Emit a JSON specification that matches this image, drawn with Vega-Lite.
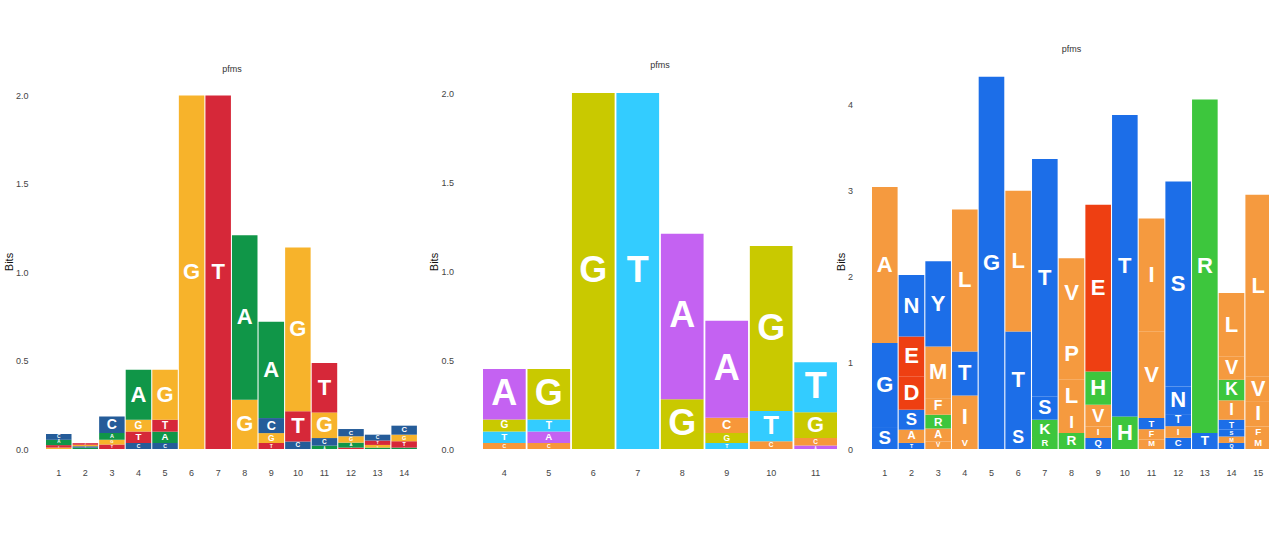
{
  "$schema": "https://vega.github.io/schema/vega-lite/v6.json",
  "background": "white",
  "padding": {"left": 3, "top": 45, "right": 0, "bottom": 0},
  "bounds": "flush",
  "spacing": 35,
  "config": {
    "view": {"stroke": null},
    "font": "Liberation Sans",
    "axis": {"domain": false, "ticks": false, "grid": false, "labelFont": "Liberation Sans", "labelFontSize": 9, "labelColor": "#444444", "titleFont": "Liberation Sans", "titleFontSize": 11, "titleFontWeight": "normal", "titleColor": "#111111"},
    "title": {"font": "Liberation Sans", "fontSize": 9, "fontWeight": "normal", "color": "#333333", "baseline": "bottom"}
  },
  "datasets": {
    "p1": [
      {"pos": 1, "letter": "G", "bits": 0.008}, {"pos": 1, "letter": "T", "bits": 0.014}, {"pos": 1, "letter": "A", "bits": 0.03}, {"pos": 1, "letter": "C", "bits": 0.033},
      {"pos": 2, "letter": "A", "bits": 0.0075}, {"pos": 2, "letter": "C", "bits": 0.008}, {"pos": 2, "letter": "G", "bits": 0.0085}, {"pos": 2, "letter": "T", "bits": 0.009},
      {"pos": 3, "letter": "T", "bits": 0.025}, {"pos": 3, "letter": "G", "bits": 0.028}, {"pos": 3, "letter": "A", "bits": 0.037}, {"pos": 3, "letter": "C", "bits": 0.094},
      {"pos": 4, "letter": "C", "bits": 0.034}, {"pos": 4, "letter": "T", "bits": 0.065}, {"pos": 4, "letter": "G", "bits": 0.067}, {"pos": 4, "letter": "A", "bits": 0.283},
      {"pos": 5, "letter": "C", "bits": 0.034}, {"pos": 5, "letter": "A", "bits": 0.064}, {"pos": 5, "letter": "T", "bits": 0.068}, {"pos": 5, "letter": "G", "bits": 0.283},
      {"pos": 6, "letter": "G", "bits": 2.0},
      {"pos": 7, "letter": "T", "bits": 2.0},
      {"pos": 8, "letter": "G", "bits": 0.279}, {"pos": 8, "letter": "A", "bits": 0.931},
      {"pos": 9, "letter": "T", "bits": 0.034}, {"pos": 9, "letter": "G", "bits": 0.056}, {"pos": 9, "letter": "C", "bits": 0.085}, {"pos": 9, "letter": "A", "bits": 0.545},
      {"pos": 10, "letter": "C", "bits": 0.043}, {"pos": 10, "letter": "T", "bits": 0.17}, {"pos": 10, "letter": "G", "bits": 0.927},
      {"pos": 11, "letter": "A", "bits": 0.019}, {"pos": 11, "letter": "C", "bits": 0.043}, {"pos": 11, "letter": "G", "bits": 0.145}, {"pos": 11, "letter": "T", "bits": 0.28},
      {"pos": 12, "letter": "T", "bits": 0.008}, {"pos": 12, "letter": "A", "bits": 0.028}, {"pos": 12, "letter": "G", "bits": 0.036}, {"pos": 12, "letter": "C", "bits": 0.041},
      {"pos": 13, "letter": "A", "bits": 0.008}, {"pos": 13, "letter": "G", "bits": 0.015}, {"pos": 13, "letter": "T", "bits": 0.025}, {"pos": 13, "letter": "C", "bits": 0.033},
      {"pos": 14, "letter": "A", "bits": 0.008}, {"pos": 14, "letter": "T", "bits": 0.036}, {"pos": 14, "letter": "G", "bits": 0.037}, {"pos": 14, "letter": "C", "bits": 0.051}
    ],
    "p2": [
      {"pos": 4, "letter": "C", "bits": 0.034}, {"pos": 4, "letter": "T", "bits": 0.065}, {"pos": 4, "letter": "G", "bits": 0.067}, {"pos": 4, "letter": "A", "bits": 0.283},
      {"pos": 5, "letter": "C", "bits": 0.034}, {"pos": 5, "letter": "A", "bits": 0.064}, {"pos": 5, "letter": "T", "bits": 0.068}, {"pos": 5, "letter": "G", "bits": 0.283},
      {"pos": 6, "letter": "G", "bits": 2.0},
      {"pos": 7, "letter": "T", "bits": 2.0},
      {"pos": 8, "letter": "G", "bits": 0.279}, {"pos": 8, "letter": "A", "bits": 0.931},
      {"pos": 9, "letter": "T", "bits": 0.034}, {"pos": 9, "letter": "G", "bits": 0.056}, {"pos": 9, "letter": "C", "bits": 0.085}, {"pos": 9, "letter": "A", "bits": 0.545},
      {"pos": 10, "letter": "C", "bits": 0.043}, {"pos": 10, "letter": "T", "bits": 0.17}, {"pos": 10, "letter": "G", "bits": 0.927},
      {"pos": 11, "letter": "A", "bits": 0.019}, {"pos": 11, "letter": "C", "bits": 0.043}, {"pos": 11, "letter": "G", "bits": 0.145}, {"pos": 11, "letter": "T", "bits": 0.28}
    ],
    "p3": [
      {"pos": 1, "letter": "S", "bits": 0.255}, {"pos": 1, "letter": "G", "bits": 0.975}, {"pos": 1, "letter": "A", "bits": 1.81},
      {"pos": 2, "letter": "T", "bits": 0.07}, {"pos": 2, "letter": "A", "bits": 0.154}, {"pos": 2, "letter": "S", "bits": 0.232}, {"pos": 2, "letter": "D", "bits": 0.387}, {"pos": 2, "letter": "E", "bits": 0.464}, {"pos": 2, "letter": "N", "bits": 0.713},
      {"pos": 3, "letter": "V", "bits": 0.088}, {"pos": 3, "letter": "A", "bits": 0.15}, {"pos": 3, "letter": "R", "bits": 0.16}, {"pos": 3, "letter": "F", "bits": 0.192}, {"pos": 3, "letter": "M", "bits": 0.6}, {"pos": 3, "letter": "Y", "bits": 0.99},
      {"pos": 4, "letter": "V", "bits": 0.128}, {"pos": 4, "letter": "I", "bits": 0.492}, {"pos": 4, "letter": "T", "bits": 0.513}, {"pos": 4, "letter": "L", "bits": 1.647},
      {"pos": 5, "letter": "G", "bits": 4.32},
      {"pos": 6, "letter": "S", "bits": 0.244}, {"pos": 6, "letter": "T", "bits": 1.12}, {"pos": 6, "letter": "L", "bits": 1.635},
      {"pos": 7, "letter": "R", "bits": 0.128}, {"pos": 7, "letter": "K", "bits": 0.212}, {"pos": 7, "letter": "S", "bits": 0.27}, {"pos": 7, "letter": "T", "bits": 2.756},
      {"pos": 8, "letter": "R", "bits": 0.186}, {"pos": 8, "letter": "I", "bits": 0.232}, {"pos": 8, "letter": "L", "bits": 0.386}, {"pos": 8, "letter": "P", "bits": 0.6}, {"pos": 8, "letter": "V", "bits": 0.81},
      {"pos": 9, "letter": "Q", "bits": 0.128}, {"pos": 9, "letter": "I", "bits": 0.134}, {"pos": 9, "letter": "V", "bits": 0.252}, {"pos": 9, "letter": "H", "bits": 0.386}, {"pos": 9, "letter": "E", "bits": 1.936},
      {"pos": 10, "letter": "H", "bits": 0.378}, {"pos": 10, "letter": "T", "bits": 3.5},
      {"pos": 11, "letter": "M", "bits": 0.11}, {"pos": 11, "letter": "F", "bits": 0.12}, {"pos": 11, "letter": "T", "bits": 0.13}, {"pos": 11, "letter": "V", "bits": 1.0}, {"pos": 11, "letter": "I", "bits": 1.315},
      {"pos": 12, "letter": "C", "bits": 0.13}, {"pos": 12, "letter": "I", "bits": 0.135}, {"pos": 12, "letter": "T", "bits": 0.14}, {"pos": 12, "letter": "N", "bits": 0.32}, {"pos": 12, "letter": "S", "bits": 2.38},
      {"pos": 13, "letter": "T", "bits": 0.186}, {"pos": 13, "letter": "R", "bits": 3.87},
      {"pos": 14, "letter": "Q", "bits": 0.07}, {"pos": 14, "letter": "M", "bits": 0.075}, {"pos": 14, "letter": "S", "bits": 0.08}, {"pos": 14, "letter": "T", "bits": 0.115}, {"pos": 14, "letter": "I", "bits": 0.225}, {"pos": 14, "letter": "K", "bits": 0.239}, {"pos": 14, "letter": "V", "bits": 0.271}, {"pos": 14, "letter": "L", "bits": 0.735},
      {"pos": 15, "letter": "M", "bits": 0.128}, {"pos": 15, "letter": "F", "bits": 0.134}, {"pos": 15, "letter": "I", "bits": 0.285}, {"pos": 15, "letter": "V", "bits": 0.296}, {"pos": 15, "letter": "L", "bits": 2.107}
    ]
  },
  "resolve": {"scale": {"x": "independent", "y": "independent", "color": "independent", "size": "independent"}},
  "hconcat": [
    {
      "width": 402,
      "height": 375,
      "title": {"text": "pfms", "offset": 0, "dx": -15},
      "data": {"name": "p1"},
      "encoding": {
        "x": {"field": "pos", "type": "ordinal", "scale": {"paddingInner": 0.04, "paddingOuter": 0.585, "align": 0, "round": false}, "axis": {"title": null, "labelAngle": 0, "labelPadding": 19}},
        "order": {"field": "bits", "type": "quantitative", "sort": "ascending"}
      },
      "layer": [
        {
          "mark": {"type": "bar"},
          "encoding": {
            "y": {"field": "bits", "type": "quantitative", "stack": "zero", "title": "Bits", "scale": {"domain": [0, 2.122], "nice": false}, "axis": {"values": [0, 0.5, 1, 1.5, 2], "format": ".1f", "labelPadding": 18, "titlePadding": 1}},
            "color": {"field": "letter", "type": "nominal", "scale": {"domain": ["A", "C", "G", "T"], "range": ["#109648", "#255C99", "#F7B32B", "#D62839"]}, "legend": null}
          }
        },
        {
          "mark": {"type": "text", "color": "white", "fontWeight": "bold", "baseline": "middle", "align": "center"},
          "encoding": {
            "y": {"field": "bits", "type": "quantitative", "stack": "zero", "bandPosition": 0.5, "title": "Bits"},
            "text": {"field": "letter"},
            "size": {"field": "bits", "type": "quantitative", "scale": {"domain": [0, 0.1467], "range": [0, 22], "clamp": true}, "legend": null}
          }
        }
      ]
    },
    {
      "width": 354,
      "height": 375,
      "title": {"text": "pfms", "offset": 4},
      "data": {"name": "p2"},
      "encoding": {
        "x": {"field": "pos", "type": "ordinal", "scale": {"paddingInner": 0.04, "paddingOuter": 0, "round": false}, "axis": {"title": null, "labelAngle": 0, "labelPadding": 19}},
        "order": {"field": "bits", "type": "quantitative", "sort": "ascending"}
      },
      "layer": [
        {
          "mark": {"type": "bar"},
          "encoding": {
            "y": {"field": "bits", "type": "quantitative", "stack": "zero", "title": "Bits", "scale": {"domain": [0, 2.107], "nice": false}, "axis": {"values": [0, 0.5, 1, 1.5, 2], "format": ".1f", "labelPadding": 29.5, "titlePadding": 1}},
            "color": {"field": "letter", "type": "nominal", "scale": {"domain": ["A", "C", "G", "T"], "range": ["#C462F2", "#F7973A", "#C9C900", "#33CCFF"]}, "legend": null}
          }
        },
        {
          "mark": {"type": "text", "color": "white", "fontWeight": "bold", "baseline": "middle", "align": "center"},
          "encoding": {
            "y": {"field": "bits", "type": "quantitative", "stack": "zero", "bandPosition": 0.5, "title": "Bits"},
            "text": {"field": "letter"},
            "size": {"field": "bits", "type": "quantitative", "scale": {"domain": [0, 0.238], "range": [0, 36], "clamp": true}, "legend": null}
          }
        }
      ]
    },
    {
      "width": 399,
      "height": 375,
      "title": {"text": "pfms", "offset": 20},
      "data": {"name": "p3"},
      "encoding": {
        "x": {"field": "pos", "type": "ordinal", "scale": {"paddingInner": 0.04, "paddingOuter": 0, "round": false}, "axis": {"title": null, "labelAngle": 0, "labelPadding": 19}},
        "order": {"field": "bits", "type": "quantitative", "sort": "ascending"}
      },
      "layer": [
        {
          "mark": {"type": "bar"},
          "encoding": {
            "y": {"field": "bits", "type": "quantitative", "stack": "zero", "title": "Bits", "scale": {"domain": [0, 4.353], "nice": false}, "axis": {"values": [0, 1, 2, 3, 4], "format": "d", "labelPadding": 19.5, "titlePadding": 1}},
            "color": {"field": "letter", "type": "nominal", "scale": {"domain": ["G", "S", "T", "Y", "C", "N", "Q", "K", "R", "H", "D", "E", "A", "V", "L", "I", "P", "W", "F", "M"], "range": ["#1C6EE8", "#1C6EE8", "#1C6EE8", "#1C6EE8", "#1C6EE8", "#1C6EE8", "#1C6EE8", "#3DC63D", "#3DC63D", "#3DC63D", "#EE3F12", "#EE3F12", "#F59A3F", "#F59A3F", "#F59A3F", "#F59A3F", "#F59A3F", "#F59A3F", "#F59A3F", "#F59A3F"]}, "legend": null}
          }
        },
        {
          "mark": {"type": "text", "color": "white", "fontWeight": "bold", "baseline": "middle", "align": "center"},
          "encoding": {
            "y": {"field": "bits", "type": "quantitative", "stack": "zero", "bandPosition": 0.5, "title": "Bits"},
            "text": {"field": "letter"},
            "size": {"field": "bits", "type": "quantitative", "scale": {"domain": [0, 0.3], "range": [0, 22], "clamp": true}, "legend": null}
          }
        }
      ]
    }
  ]
}
